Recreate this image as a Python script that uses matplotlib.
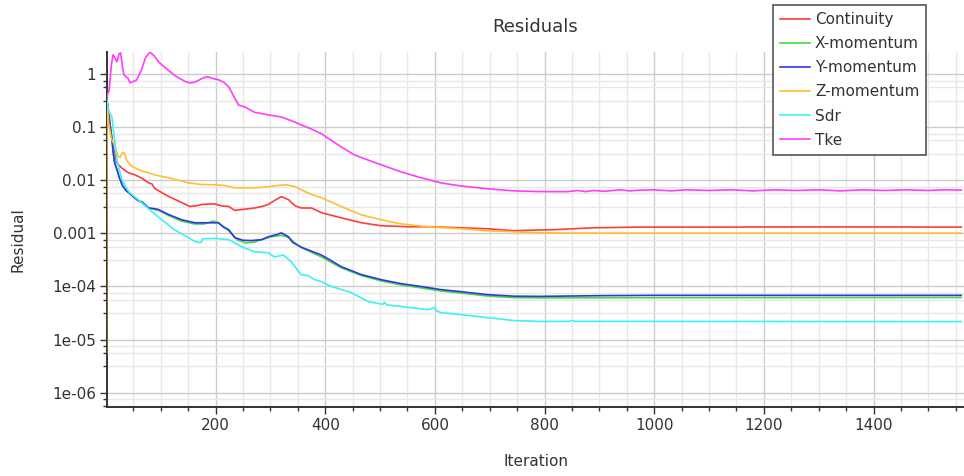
import numpy as np
import matplotlib
matplotlib.use("Agg")
import matplotlib.pyplot as plt
from matplotlib.ticker import FixedLocator, LogLocator, NullFormatter

# values (iteration, residual)
continuity_it = [1, 5, 10, 15, 20, 29, 40, 53, 65, 78, 84, 89, 100, 115, 138, 153, 165, 175, 198, 210,
                 224, 235, 247, 260, 271, 285, 296, 310, 320, 333, 345, 356, 375, 393, 429, 466, 502,
                 551, 598, 647, 696, 744, 769, 816, 889, 975, 1100, 1300, 1560]
continuity = [0.35, 0.2, 0.07, 0.035, 0.021, 0.017, 0.014, 0.0126, 0.011, 0.0089, 0.0085, 0.0070,
              0.006, 0.0049, 0.0038, 0.0032, 0.0033, 0.0035, 0.0036, 0.0033, 0.0032, 0.0027, 0.0028,
              0.0029, 0.0030, 0.0032, 0.0035, 0.0043, 0.0049, 0.0043, 0.0033, 0.0030, 0.0030, 0.00245,
              0.00196, 0.00158, 0.00139, 0.00133, 0.00133, 0.00127, 0.00122, 0.00112, 0.00114,
              0.00117, 0.00127, 0.00131, 0.00131, 0.00132, 0.00131]

xmom_it = [1, 4, 8, 11, 13, 16, 20, 24, 30, 36, 42, 50, 58, 66, 78, 96, 115, 138, 162, 180, 195, 205,
           224, 240, 255, 270, 284, 300, 320, 333, 345, 356, 393, 429, 466, 502, 538, 575, 611, 647,
           696, 744, 793, 1560]
xmom = [0.4, 0.2, 0.1, 0.06, 0.035, 0.021, 0.016, 0.0116, 0.008, 0.0065, 0.0058, 0.0049, 0.0042,
        0.0037, 0.0030, 0.0027, 0.00215, 0.0017, 0.0015, 0.0015, 0.0017, 0.0016, 0.00112, 0.00075,
        0.00066, 0.00068, 0.00076, 0.00085, 0.00092, 0.00084, 0.00066, 0.00054, 0.00036, 0.000225,
        0.00016, 0.000127, 0.000107, 0.000094, 0.000082, 0.000075, 0.000066, 0.0000615, 0.000061,
        0.000062]

ymom_it = [1, 4, 8, 11, 13, 16, 20, 24, 30, 36, 42, 50, 58, 66, 78, 90, 96, 115, 138, 162, 187, 205,
           215, 224, 235, 250, 265, 284, 296, 312, 320, 333, 340, 356, 393, 410, 429, 466, 502, 538,
           575, 611, 647, 696, 744, 793, 900, 1000, 1560]
ymom = [0.4, 0.2, 0.1, 0.06, 0.035, 0.021, 0.016, 0.0116, 0.008, 0.0065, 0.0058, 0.0049, 0.0042,
        0.0039, 0.0030, 0.0029, 0.0028, 0.00224, 0.0018, 0.00158, 0.00158, 0.00158, 0.0013, 0.00117,
        0.00083, 0.00074, 0.00073, 0.00076, 0.00086, 0.00095, 0.00102, 0.00086, 0.00068, 0.00055,
        0.00039, 0.00031, 0.000236, 0.000167, 0.000134, 0.000113, 0.0000997, 0.0000871, 0.0000798,
        0.0000701, 0.0000655, 0.000065, 0.000067, 0.000068, 0.000068]

zmom_it = [1, 2, 5, 10, 16, 22, 26, 30, 33, 38, 45, 53, 65, 78, 90, 115, 151, 175, 198, 215, 235, 271,
           296, 315, 329, 345, 356, 375, 393, 429, 466, 502, 538, 587, 647, 696, 744, 793, 889, 1560]
zmom = [5.5e-6, 0.3, 0.12, 0.06, 0.045, 0.028, 0.027, 0.033, 0.033, 0.024, 0.019, 0.0171, 0.015,
        0.0138, 0.0125, 0.0111, 0.0089, 0.0083, 0.0082, 0.0080, 0.0072, 0.0072, 0.0075, 0.008, 0.0082,
        0.0076, 0.0066, 0.0054, 0.0047, 0.0032, 0.00223, 0.0018, 0.00151, 0.00133, 0.00122, 0.00112,
        0.00107, 0.00102, 0.00101, 0.00101]

sdr_it = [1, 5, 11, 20, 29, 42, 65, 84, 102, 125, 151, 160, 171, 174, 176, 200, 224, 247, 271, 296,
          307, 324, 338, 356, 369, 380, 393, 411, 447, 478, 505, 508, 512, 538, 587, 600, 603, 611,
          647, 696, 744, 793, 845, 850, 855, 1560]
sdr = [0.35, 0.2, 0.155, 0.024, 0.0102, 0.0060, 0.0038, 0.00255, 0.0018, 0.00117, 0.00083, 0.00072,
       0.00067, 0.00068, 0.00079, 0.00080, 0.00076, 0.00056, 0.00045, 0.00043, 0.00036, 0.00039,
       0.00029, 0.000167, 0.00016, 0.000135, 0.000123, 0.0001, 0.000077, 0.000052, 0.000046, 0.00005,
       0.000045, 0.000042, 0.0000365, 0.00004, 0.000035, 0.0000322, 0.0000295, 0.0000259, 0.0000228,
       0.0000219, 0.000022, 0.000023, 0.000022, 0.0000218]

tke_it = [1, 6, 10, 13, 17, 20, 24, 27, 30, 33, 36, 40, 44, 50, 56, 65, 72, 80, 88, 96, 105, 115, 125,
          133, 145, 153, 162, 169, 178, 186, 195, 205, 215, 224, 232, 242, 253, 271, 296, 320, 344,
          356, 375, 393, 429, 453, 478, 502, 538, 575, 611, 647, 696, 744, 793, 842, 860, 875, 889,
          910, 938, 955, 975, 1000, 1030, 1060, 1100, 1140, 1180, 1220, 1260, 1300, 1340, 1380, 1420,
          1460, 1500, 1530, 1560]
tke = [0.35, 0.5, 1.5, 2.3, 2.0, 1.7, 2.4, 2.5, 1.4, 0.96, 0.9, 0.84, 0.68, 0.72, 0.77, 1.2, 2.0, 2.6,
       2.2, 1.7, 1.4, 1.15, 0.95, 0.84, 0.72, 0.68, 0.70, 0.76, 0.85, 0.89, 0.82, 0.78, 0.70, 0.57, 0.4,
       0.26, 0.24, 0.19, 0.17, 0.155, 0.125, 0.11, 0.092, 0.075, 0.0425, 0.030, 0.024, 0.0195, 0.0144,
       0.0111, 0.0089, 0.0078, 0.0069, 0.0063, 0.0061, 0.0061, 0.0064, 0.0061, 0.0064, 0.0062, 0.0066,
       0.0063, 0.0065, 0.0066, 0.0063, 0.0066, 0.0064, 0.0066, 0.0063, 0.0066, 0.0064, 0.0066, 0.0063,
       0.0066, 0.0064, 0.0066, 0.0064, 0.0066, 0.0065]

names = ["Continuity", "X-momentum", "Y-momentum", "Z-momentum", "Sdr", "Tke"]
colors = ["#ff3c3c", "#3ce03c", "#3434e6", "#ffbf33", "#3cf2f2", "#ff3cff"]

ytick_vals = [1e-6, 1e-5, 1e-4, 1e-3, 1e-2, 1e-1, 1]
ytick_labels = ["1e-06", "1e-05", "1e-04", "0.001", "0.01", "0.1", "1"]
xtick_vals = [200, 400, 600, 800, 1000, 1200, 1400]

plt.rcParams["font.family"] = "DejaVu Sans"
txt = "#333333"

fig = plt.figure(figsize=(9.64, 4.76), dpi=100)
ax = fig.add_axes([107 / 964, 1 - 407 / 476, 1 - 107 / 964, 355 / 476])

series = [(continuity_it, continuity), (xmom_it, xmom), (ymom_it, ymom),
          (zmom_it, zmom), (sdr_it, sdr), (tke_it, tke)]
for (it, val), name, c in zip(series, names, colors):
    ax.plot(it, val, color=c, lw=1.2, label=name, zorder=3)

ax.set_yscale("log")
ax.set_xlim(2, 1565)
ax.set_ylim(10 ** -6.27, 10 ** 0.414)

ax.set_yticks(ytick_vals, ytick_labels)
ax.yaxis.set_minor_locator(LogLocator(base=10, subs=(10 ** 0.5, 10 ** 0.75, 10 ** 0.875), numticks=20))
ax.yaxis.set_minor_formatter(NullFormatter())
ax.set_xticks(xtick_vals)
ax.xaxis.set_minor_locator(FixedLocator(np.arange(50, 1560, 50)))

ax.grid(which="major", color="#cccccc", lw=1.0, zorder=0)
ax.grid(which="minor", color="#e8e8e8", lw=1.0, zorder=0)
ax.set_axisbelow(True)

ax.tick_params(which="major", length=5, width=1, color=txt, labelsize=11, labelcolor=txt, pad=3)
ax.tick_params(which="minor", length=3, width=1, color=txt)
for s in ["top", "right"]:
    ax.spines[s].set_visible(False)
for s in ["left", "bottom"]:
    ax.spines[s].set_color(txt)
    ax.spines[s].set_linewidth(1.4)

fig.text(535 / 964, 1 - 27 / 476, "Residuals", ha="center", va="center", fontsize=13, color=txt)
fig.text(536 / 964, 1 - 461 / 476, "Iteration", ha="center", va="center", fontsize=11, color=txt)
fig.text(18 / 964, 1 - 240 / 476, "Residual", ha="center", va="center", rotation=90,
         fontsize=11, color=txt)

leg = ax.legend(loc="upper left", bbox_to_anchor=(773 / 964, 1 - 5 / 476),
                bbox_transform=fig.transFigure, borderaxespad=0, fontsize=11,
                handlelength=2.0, handletextpad=0.3, labelspacing=0.6, borderpad=0.45,
                fancybox=False, framealpha=1, edgecolor="#555555")
leg.get_frame().set_linewidth(1.2)
for t in leg.get_texts():
    t.set_color(txt)

plt.savefig("out.png", dpi=100)
